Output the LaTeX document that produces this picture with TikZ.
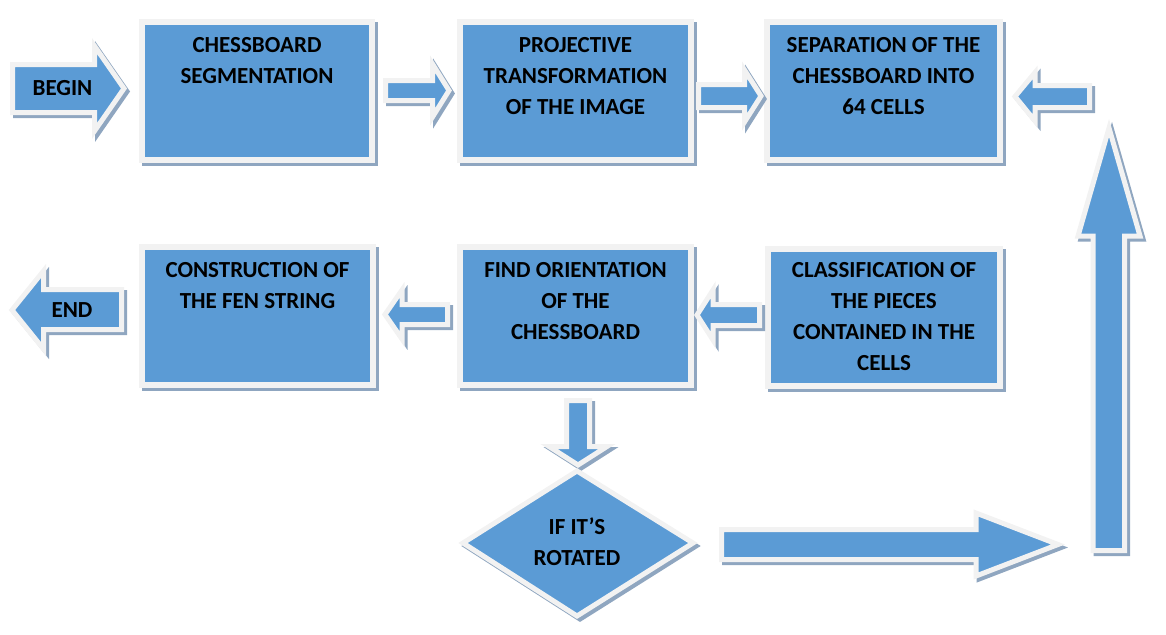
\documentclass[tikz,border=0pt]{standalone}
\usepackage{fontspec}
\setmainfont{Carlito}
\usetikzlibrary{shadows}
\definecolor{fillblue}{HTML}{5B9BD5}
\definecolor{edgegray}{HTML}{F2F2F2}
\definecolor{shadowc}{HTML}{8FA6C0}
\tikzset{
  box/.style={rectangle, inner sep=0pt, outer sep=0pt, fill=fillblue, draw=edgegray, line width=6pt,
    general shadow={fill=shadowc, draw=shadowc, line width=6pt, shadow xshift=3pt, shadow yshift=-3pt}},
  blockarrow/.style={fill=fillblue, draw=edgegray, line width=5pt, line join=miter,
    general shadow={fill=shadowc, draw=shadowc, line width=5pt, line join=miter, shadow xshift=3pt, shadow yshift=-3pt}},
  txt/.style={inner sep=0pt, align=center, font=\fontsize{23}{31}\selectfont\bfseries, text=black},
}
\begin{document}
\begin{tikzpicture}[x=1pt, y=-1pt]
\useasboundingbox (0,0) rectangle (1166,634);
% boxes
\node[box, minimum width=230pt, minimum height=138pt] (b1) at (257,91) {};
\node[box, minimum width=231pt, minimum height=138pt] (b2) at (575.5,91) {};
\node[box, minimum width=233pt, minimum height=138pt] (b3) at (883.5,91) {};
\node[box, minimum width=231pt, minimum height=138pt] (b4) at (257.5,316) {};
\node[box, minimum width=231pt, minimum height=138pt] (b5) at (575.5,316) {};
\node[box, minimum width=232pt, minimum height=137pt] (b6) at (884,317.5) {};
% box texts
\node[txt, anchor=north] (t1) at (257,37.5) {CHESSBOARD\\SEGMENTATION};
\node[txt, anchor=north] (t2) at (575.5,37.5) {PROJECTIVE\\TRANSFORMATION\\OF THE IMAGE};
\node[txt, anchor=north] (t3) at (883.5,37.5) {SEPARATION OF THE\\CHESSBOARD INTO\\64 CELLS};
\node[txt, anchor=north] (t4) at (257.5,262.5) {CONSTRUCTION OF\\THE FEN STRING};
\node[txt, anchor=north] (t5) at (575.5,262.5) {FIND ORIENTATION\\OF THE\\CHESSBOARD};
\node[txt, anchor=north] (t6) at (884,262.5) {CLASSIFICATION OF\\THE PIECES\\CONTAINED IN THE\\CELLS};
% BEGIN arrow
\draw[blockarrow] (12.5,64.5) -- (94.5,64.5) -- (94.5,46) -- (124,88.5) -- (94.5,131) -- (94.5,112.5) -- (12.5,112.5) -- cycle;
\node[txt] (begin) at (62.5,88) {BEGIN};
% END arrow
\draw[blockarrow] (121.5,289.5) -- (43.5,289.5) -- (43.5,271) -- (12,310) -- (43.5,349) -- (43.5,329.5) -- (121.5,329.5) -- cycle;
\node[txt] (end) at (72,310) {END};
% small arrows row 1
\draw[blockarrow] (385.5,80.5) -- (432.5,80.5) -- (432.5,64) -- (449,90.5) -- (432.5,117) -- (432.5,100.5) -- (385.5,100.5) -- cycle;
\draw[blockarrow] (698.5,84.5) -- (744.5,84.5) -- (744.5,70) -- (761,96) -- (744.5,122) -- (744.5,107.5) -- (698.5,107.5) -- cycle;
\draw[blockarrow] (1089.5,85.5) -- (1035,85.5) -- (1035,72.5) -- (1015,96.5) -- (1035,121) -- (1035,107.5) -- (1089.5,107.5) -- cycle;
% small arrows row 2
\draw[blockarrow] (447.5,304.5) -- (402,304.5) -- (402,290) -- (385,314.5) -- (402,339) -- (402,324.5) -- (447.5,324.5) -- cycle;
\draw[blockarrow] (759.5,304.5) -- (713,304.5) -- (713,290) -- (697,315) -- (713,340) -- (713,325.5) -- (759.5,325.5) -- cycle;
% down arrow
\draw[blockarrow] (566.5,400.5) -- (589.5,400.5) -- (589.5,446.5) -- (607,446.5) -- (578,465) -- (549,446.5) -- (566.5,446.5) -- cycle;
% diamond
\draw[blockarrow] (577,471) -- (693,543) -- (577,616) -- (463,543) -- cycle;
\node[txt] (dtext) at (577,542) {IF IT’S\\ROTATED};
% big right arrow
\draw[blockarrow] (721.5,529.5) -- (976,529.5) -- (976,513) -- (1058,544.5) -- (976,576) -- (976,559.5) -- (721.5,559.5) -- cycle;
% big up arrow
\draw[blockarrow] (1093,550.5) -- (1093,236) -- (1078,236) -- (1109,128) -- (1140,236) -- (1124.5,236) -- (1124.5,550.5) -- cycle;
\end{tikzpicture}
\end{document}
